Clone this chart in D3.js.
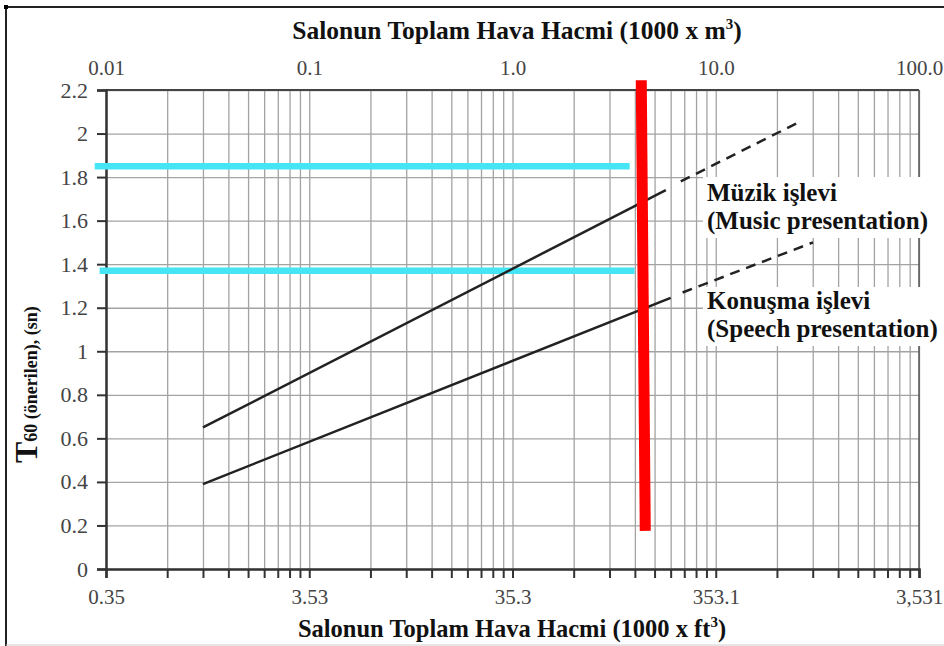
<!DOCTYPE html>
<html>
<head>
<meta charset="utf-8">
<script src="https://cdn.jsdelivr.net/npm/d3@7"></script>
<style>
  body { margin: 0; background: #fff; }
  text { font-family: "Liberation Serif", "Times New Roman", serif; }
</style>
</head>
<body>
<svg id="chart" width="944" height="646"></svg>
<script>
// axis tick values and labels
const decades = [0.01, 0.1, 1, 10, 100];
const m3Labels = ["0.01", "0.1", "1.0", "10.0", "100.0"];
const ft3Labels = ["0.35", "3.53", "35.3", "353.1", "3,531"];
const yTicks = [0, 0.2, 0.4, 0.6, 0.8, 1, 1.2, 1.4, 1.6, 1.8, 2, 2.2];
const yLabels = ["0", "0.2", "0.4", "0.6", "0.8", "1", "1.2", "1.4", "1.6", "1.8", "2", "2.2"];

// recommended T60 lines (volume in 1000 m3, T60 in s)
const musicSolidVol = [0.03, 5.68];
const musicSolidT = [0.65, 1.74];
const musicDashVol = [6.73, 25.4];
const musicDashT = [1.78, 2.05];
const speechSolidVol = [0.03, 6.0];
const speechSolidT = [0.39, 1.245];
const speechDashVol = [6.87, 30.1];
const speechDashT = [1.27, 1.50];

// highlight marks
const cyanT = [1.85, 1.37];
const cyanFrom = [0.0088, 0.0093];
const cyanTo = [3.77, 3.99];
const redVol = [4.3, 4.5];
const redT = [2.245, 0.175];

const svg = d3.select("#chart");

const x = d3.scaleLog().domain([0.01, 100]).range([106, 919]);
const y = d3.scaleLinear().domain([0, 2.2]).range([569, 90]);
const plotL = x.range()[0], plotR = x.range()[1];
const plotT = y.range()[1], plotB = y.range()[0];

// outer frame
svg.append("line").attr("x1", 6).attr("y1", 7).attr("x2", 944).attr("y2", 7)
  .attr("stroke", "#222").attr("stroke-width", 2);
svg.append("line").attr("x1", 6).attr("y1", 7).attr("x2", 6).attr("y2", 646)
  .attr("stroke", "#222").attr("stroke-width", 2);
svg.append("rect").attr("x", 4).attr("y", 5).attr("width", 4).attr("height", 4).attr("fill", "#000");
svg.append("line").attr("x1", 6).attr("y1", 645).attr("x2", 944).attr("y2", 645)
  .attr("stroke", "#ccc").attr("stroke-width", 1);

// grid
const gridX = svg.append("g").attr("transform", `translate(0,${plotB})`)
  .call(d3.axisBottom(x).tickValues(x.ticks()).tickSize(-(plotB - plotT)).tickFormat(""));
gridX.select(".domain").remove();
gridX.selectAll("line").attr("stroke", "#a3a3a3").attr("stroke-width", 1.3);

const gridY = svg.append("g").attr("transform", `translate(${plotL},0)`)
  .call(d3.axisLeft(y).tickValues(yTicks).tickSize(-(plotR - plotL)).tickFormat(""));
gridY.select(".domain").remove();
gridY.selectAll("line").attr("stroke", "#a3a3a3").attr("stroke-width", 1.3);

// plot frame top/right
svg.append("line").attr("x1", plotL).attr("y1", plotT).attr("x2", plotR).attr("y2", plotT)
  .attr("stroke", "#444").attr("stroke-width", 2);
svg.append("line").attr("x1", plotR).attr("y1", plotT).attr("x2", plotR).attr("y2", plotB)
  .attr("stroke", "#555").attr("stroke-width", 1.5);

// bottom ticks
const bTicks = svg.append("g").attr("transform", `translate(0,${plotB})`)
  .call(d3.axisBottom(x).tickValues(x.ticks()).tickSize(9).tickFormat(""));
bTicks.selectAll("line").attr("stroke", "#333").attr("stroke-width", 2);
bTicks.select(".domain").attr("stroke", "#333").attr("stroke-width", 2.5);

// bottom labels (ft3)
const bLab = svg.append("g").attr("transform", `translate(0,${plotB})`)
  .call(d3.axisBottom(x).tickValues(decades).tickSize(0).tickPadding(35)
    .tickFormat((d, i) => ft3Labels[i]));
bLab.select(".domain").remove();
bLab.selectAll("text").attr("font-size", 21).attr("fill", "#444")
  .style("font-family", "Liberation Serif").attr("dy", "0em");

// top labels (m3)
const tLab = svg.append("g").attr("transform", `translate(0,${plotT})`)
  .call(d3.axisTop(x).tickValues(decades).tickSize(0).tickPadding(15)
    .tickFormat((d, i) => m3Labels[i]));
tLab.select(".domain").remove();
tLab.selectAll("text").attr("font-size", 21).attr("fill", "#444")
  .style("font-family", "Liberation Serif");

// left axis
const lAx = svg.append("g").attr("transform", `translate(${plotL},0)`)
  .call(d3.axisLeft(y).tickValues(yTicks).tickSize(9).tickPadding(9)
    .tickFormat((d, i) => yLabels[i]));
lAx.select(".domain").attr("stroke", "#333").attr("stroke-width", 2.5);
lAx.selectAll("line").attr("stroke", "#333").attr("stroke-width", 2);
lAx.selectAll("text").attr("font-size", 22).attr("fill", "#444")
  .style("font-family", "Liberation Serif");

// white boxes behind right-hand labels
svg.append("rect").attr("x", 703).attr("y", 177).attr("width", 241).attr("height", 61).attr("fill", "#fff");
svg.append("rect").attr("x", 703).attr("y", 287).attr("width", 241).attr("height", 59).attr("fill", "#fff");

// cyan reference lines
cyanT.forEach((t, i) => {
  svg.append("line")
    .attr("x1", x(cyanFrom[i])).attr("x2", x(cyanTo[i]))
    .attr("y1", y(t)).attr("y2", y(t))
    .attr("stroke", "#46e5f6").attr("stroke-width", 6.5);
});

// T60 lines
const line = d3.line().x(d => x(d[0])).y(d => y(d[1]));
const series = [
  [musicSolidVol, musicSolidT, null],
  [musicDashVol, musicDashT, "10,7"],
  [speechSolidVol, speechSolidT, null],
  [speechDashVol, speechDashT, "10,7"]
];
series.forEach(([vx, vy, dash]) => {
  svg.append("path")
    .datum(vx.map((v, i) => [v, vy[i]]))
    .attr("d", line)
    .attr("fill", "none")
    .attr("stroke", "#222")
    .attr("stroke-width", 2.5)
    .attr("stroke-dasharray", dash);
});

// red marker
svg.append("path")
  .datum(redVol.map((v, i) => [v, redT[i]]))
  .attr("d", line)
  .attr("stroke", "#ff0000").attr("stroke-width", 11).attr("fill", "none");

// right labels
const labels = [
  ["Müzik işlevi", 201],
  ["(Music presentation)", 229],
  ["Konuşma işlevi", 309],
  ["(Speech presentation)", 337]
];
svg.selectAll(".lbl").data(labels).join("text")
  .attr("class", "lbl")
  .attr("x", 707).attr("y", d => d[1])
  .attr("font-size", 25).attr("font-weight", "bold").attr("fill", "#111")
  .text(d => d[0]);

// axis titles
function title(xPos, yPos, size, unit) {
  const t = svg.append("text").attr("x", xPos).attr("y", yPos)
    .attr("text-anchor", "middle").attr("font-size", size).attr("font-weight", "bold").attr("fill", "#111");
  t.append("tspan").text(`Salonun Toplam Hava Hacmi (1000 x ${unit}`);
  t.append("tspan").attr("font-size", 15).attr("dy", -10).text("3");
  t.append("tspan").attr("dy", 10).text(")");
}
title(517, 39, 25.5, "m");
title(512, 637, 24.5, "ft");

const yt = svg.append("text").attr("transform", "translate(37,463) rotate(-90)")
  .attr("font-weight", "bold").attr("fill", "#111");
yt.append("tspan").attr("font-size", 32).text("T");
yt.append("tspan").attr("font-size", 18).text("60 (önerilen), (sn)");
</script>
</body>
</html>
